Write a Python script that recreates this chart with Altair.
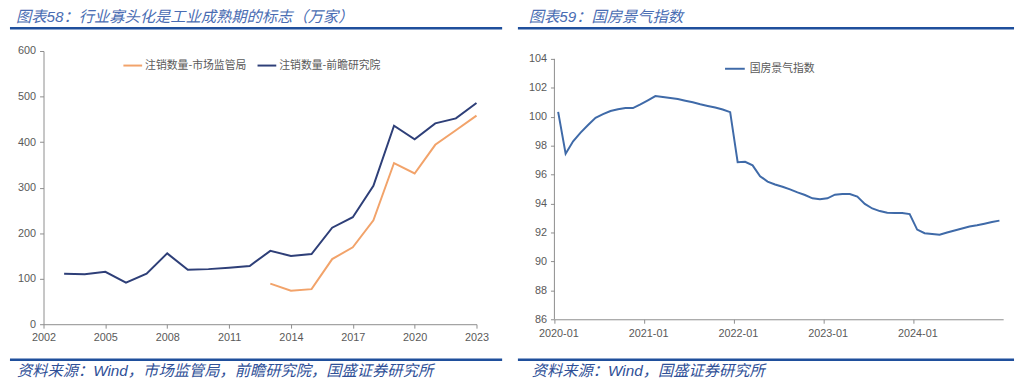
import altair as alt
import pandas as pd

# ---------------- data ----------------
title_left = "图表58：行业寡头化是工业成熟期的标志（万家）"
title_right = "图表59：国房景气指数"
source_left = "资料来源：Wind，市场监管局，前瞻研究院，国盛证券研究所"
source_right = "资料来源：Wind，国盛证券研究所"

series_names = ["注销数量-市场监管局", "注销数量-前瞻研究院"]

years_qz = list(range(2003, 2024))
values_qz = [111, 109.5, 115, 91.5, 111, 155.6, 119.6, 121, 124, 128, 161,
             150, 154, 212, 235, 304, 436, 406, 441, 452, 486]

years_sc = list(range(2013, 2024))
values_sc = [89, 73.5, 77, 143, 169, 228, 354, 331, 394, 426, 458]

left_ticks = [2002, 2005, 2008, 2011, 2014, 2017, 2020, 2023]
left_yticks = [0, 100, 200, 300, 400, 500, 600]

index_name = "国房景气指数"
months = [f"{y}-{m:02d}" for y in range(2020, 2025) for m in range(1, 13)]
index_values = [100.34, 97.45, 98.3, 98.9, 99.43, 99.93, 100.18, 100.4, 100.52, 100.6, 100.6, 100.86,
                101.14, 101.43, 101.36, 101.3, 101.23, 101.11, 101.0, 100.86, 100.75, 100.64, 100.5, 100.32,
                96.86, 96.89, 96.64, 95.89, 95.52, 95.32, 95.16, 94.98, 94.77, 94.59, 94.36, 94.3,
                94.36, 94.61, 94.66, 94.66, 94.48, 93.98, 93.66, 93.48, 93.36, 93.34, 93.34, 93.27,
                92.2, 91.95, 91.89, 91.84, 92.0, 92.14, 92.27, 92.41, 92.5, 92.61, 92.73, 92.82]
right_tick_labels = ["2020-01", "2021-01", "2022-01", "2023-01", "2024-01"]
right_yticks = [86, 88, 90, 92, 94, 96, 98, 100, 102, 104]
right_ymin, right_ymax = 86, 104

# ---------------- styles ----------------
FONT = "Liberation Sans, Noto Sans CJK SC"
CJK = "Noto Sans CJK SC"
RULE_COLOR = "#1f4f9c"
TITLE_COLOR = "#4a6db3"
SOURCE_COLOR = "#2f5097"
AXIS_COLOR = "#8c8c8c"
LABEL_COLOR = "#595959"
NAVY = "#2e3f78"
ORANGE = "#f2a36a"
RIGHT_BLUE = "#3f6aa8"

one = pd.DataFrame({"k": [0]})


def deco(title, source, x0, x1, tx, sx):
    t = alt.Chart(one).mark_text(text=title, align="left", baseline="middle", font=FONT,
                                 fontSize=15.5, fontStyle="italic", color=TITLE_COLOR).encode(
        x=alt.value(tx), y=alt.value(-34))
    r1 = alt.Chart(one).mark_rule(color=RULE_COLOR, strokeWidth=2.5).encode(
        x=alt.value(x0), x2=alt.value(x1), y=alt.value(-23))
    r2 = alt.Chart(one).mark_rule(color=RULE_COLOR, strokeWidth=2.5).encode(
        x=alt.value(x0), x2=alt.value(x1), y=alt.value(313))
    s = alt.Chart(one).mark_text(text=source, align="left", baseline="middle", font=FONT,
                                 fontSize=15.5, fontStyle="italic", color=SOURCE_COLOR).encode(
        x=alt.value(sx), y=alt.value(325))
    return [t, r1, r2, s]


axis_common = dict(tickColor=AXIS_COLOR, labelColor=LABEL_COLOR, labelFont=FONT,
                   labelFontSize=11, grid=False, title=None, tickSize=4, labelFlush=False,
                   labelOverlap=False, labelBound=False)

# ---------------- left chart ----------------
df_left = pd.concat([
    pd.DataFrame({"year": years_sc, "value": values_sc, "series": series_names[0]}),
    pd.DataFrame({"year": years_qz, "value": values_qz, "series": series_names[1]}),
])

LW, LH = 439, 277
left_lines = alt.Chart(df_left).mark_line(strokeWidth=2).encode(
    x=alt.X("year:Q", scale=alt.Scale(domain=[2002, 2023], nice=False, zero=False),
            axis=alt.Axis(values=left_ticks, format="d", labelPadding=4, domainColor=AXIS_COLOR,
                          **axis_common)),
    y=alt.Y("value:Q", scale=alt.Scale(domain=[0, 600], nice=False),
            axis=alt.Axis(values=left_yticks, labelPadding=4, domainColor=AXIS_COLOR,
                          **axis_common)),
    color=alt.Color("series:N", scale=alt.Scale(domain=series_names, range=[ORANGE, NAVY]),
                    legend=alt.Legend(orient="none", legendX=80, legendY=4, direction="horizontal",
                                      title=None, symbolType="stroke", symbolSize=361,
                                      symbolStrokeWidth=2, labelFont=CJK, labelFontSize=11,
                                      labelColor=LABEL_COLOR, columnPadding=7, labelOffset=2,
                                      padding=0)),
    detail="series:N",
)

left = alt.layer(
    left_lines,
    *deco(title_left, source_left, -34, 465, -28, -27),
).properties(width=LW, height=LH)

# ---------------- right chart ----------------
df_right = pd.DataFrame({
    "pos": [i + 0.5 for i in range(len(months))],
    "month": months,
    "value": index_values,
    "series": index_name,
})

RW, RH = 455, 272
GAP = 8  # plot area starts 8px above the 104 line (same top as the left panel)
y_top = right_ymax + GAP * (right_ymax - right_ymin) / (RH - GAP)
label_expr = "[" + ",".join(f"'{s}'" for s in right_tick_labels) + "][datum.value / 12]"

right_line = alt.Chart(df_right).mark_line(strokeWidth=2).encode(
    x=alt.X("pos:Q", scale=alt.Scale(domain=[0, 60], nice=False, zero=False),
            axis=alt.Axis(values=[0, 12, 24, 36, 48], labelExpr=label_expr, labelOffset=4,
                          labelPadding=4, domainColor=AXIS_COLOR, **axis_common)),
    y=alt.Y("value:Q", scale=alt.Scale(domain=[right_ymin, y_top], nice=False, zero=False),
            axis=alt.Axis(values=right_yticks, labelPadding=4, domain=False, **axis_common)),
    color=alt.Color("series:N", scale=alt.Scale(domain=[index_name], range=[RIGHT_BLUE]),
                    legend=alt.Legend(orient="none", legendX=172, legendY=7, direction="horizontal",
                                      title=None, symbolType="stroke", symbolSize=400,
                                      symbolStrokeWidth=2, labelFont=CJK, labelFontSize=11,
                                      labelColor=LABEL_COLOR, labelOffset=4, padding=0)),
)

# y-axis line drawn from 104 down to 86
right_domain = alt.Chart(one).mark_rule(color=AXIS_COLOR, strokeWidth=1).encode(
    x=alt.value(0), y=alt.value(GAP), y2=alt.value(RH),
)

right = alt.layer(
    right_line,
    right_domain,
    *deco(title_right, source_right, -37, 466, -26, -23),
).properties(width=RW, height=RH)

chart = alt.hconcat(left, right, spacing=12).resolve_scale(color="independent").properties(
    padding=0
).configure_view(stroke=None)

chart.save("out.html", embed_options={"renderer": "svg", "actions": False})
